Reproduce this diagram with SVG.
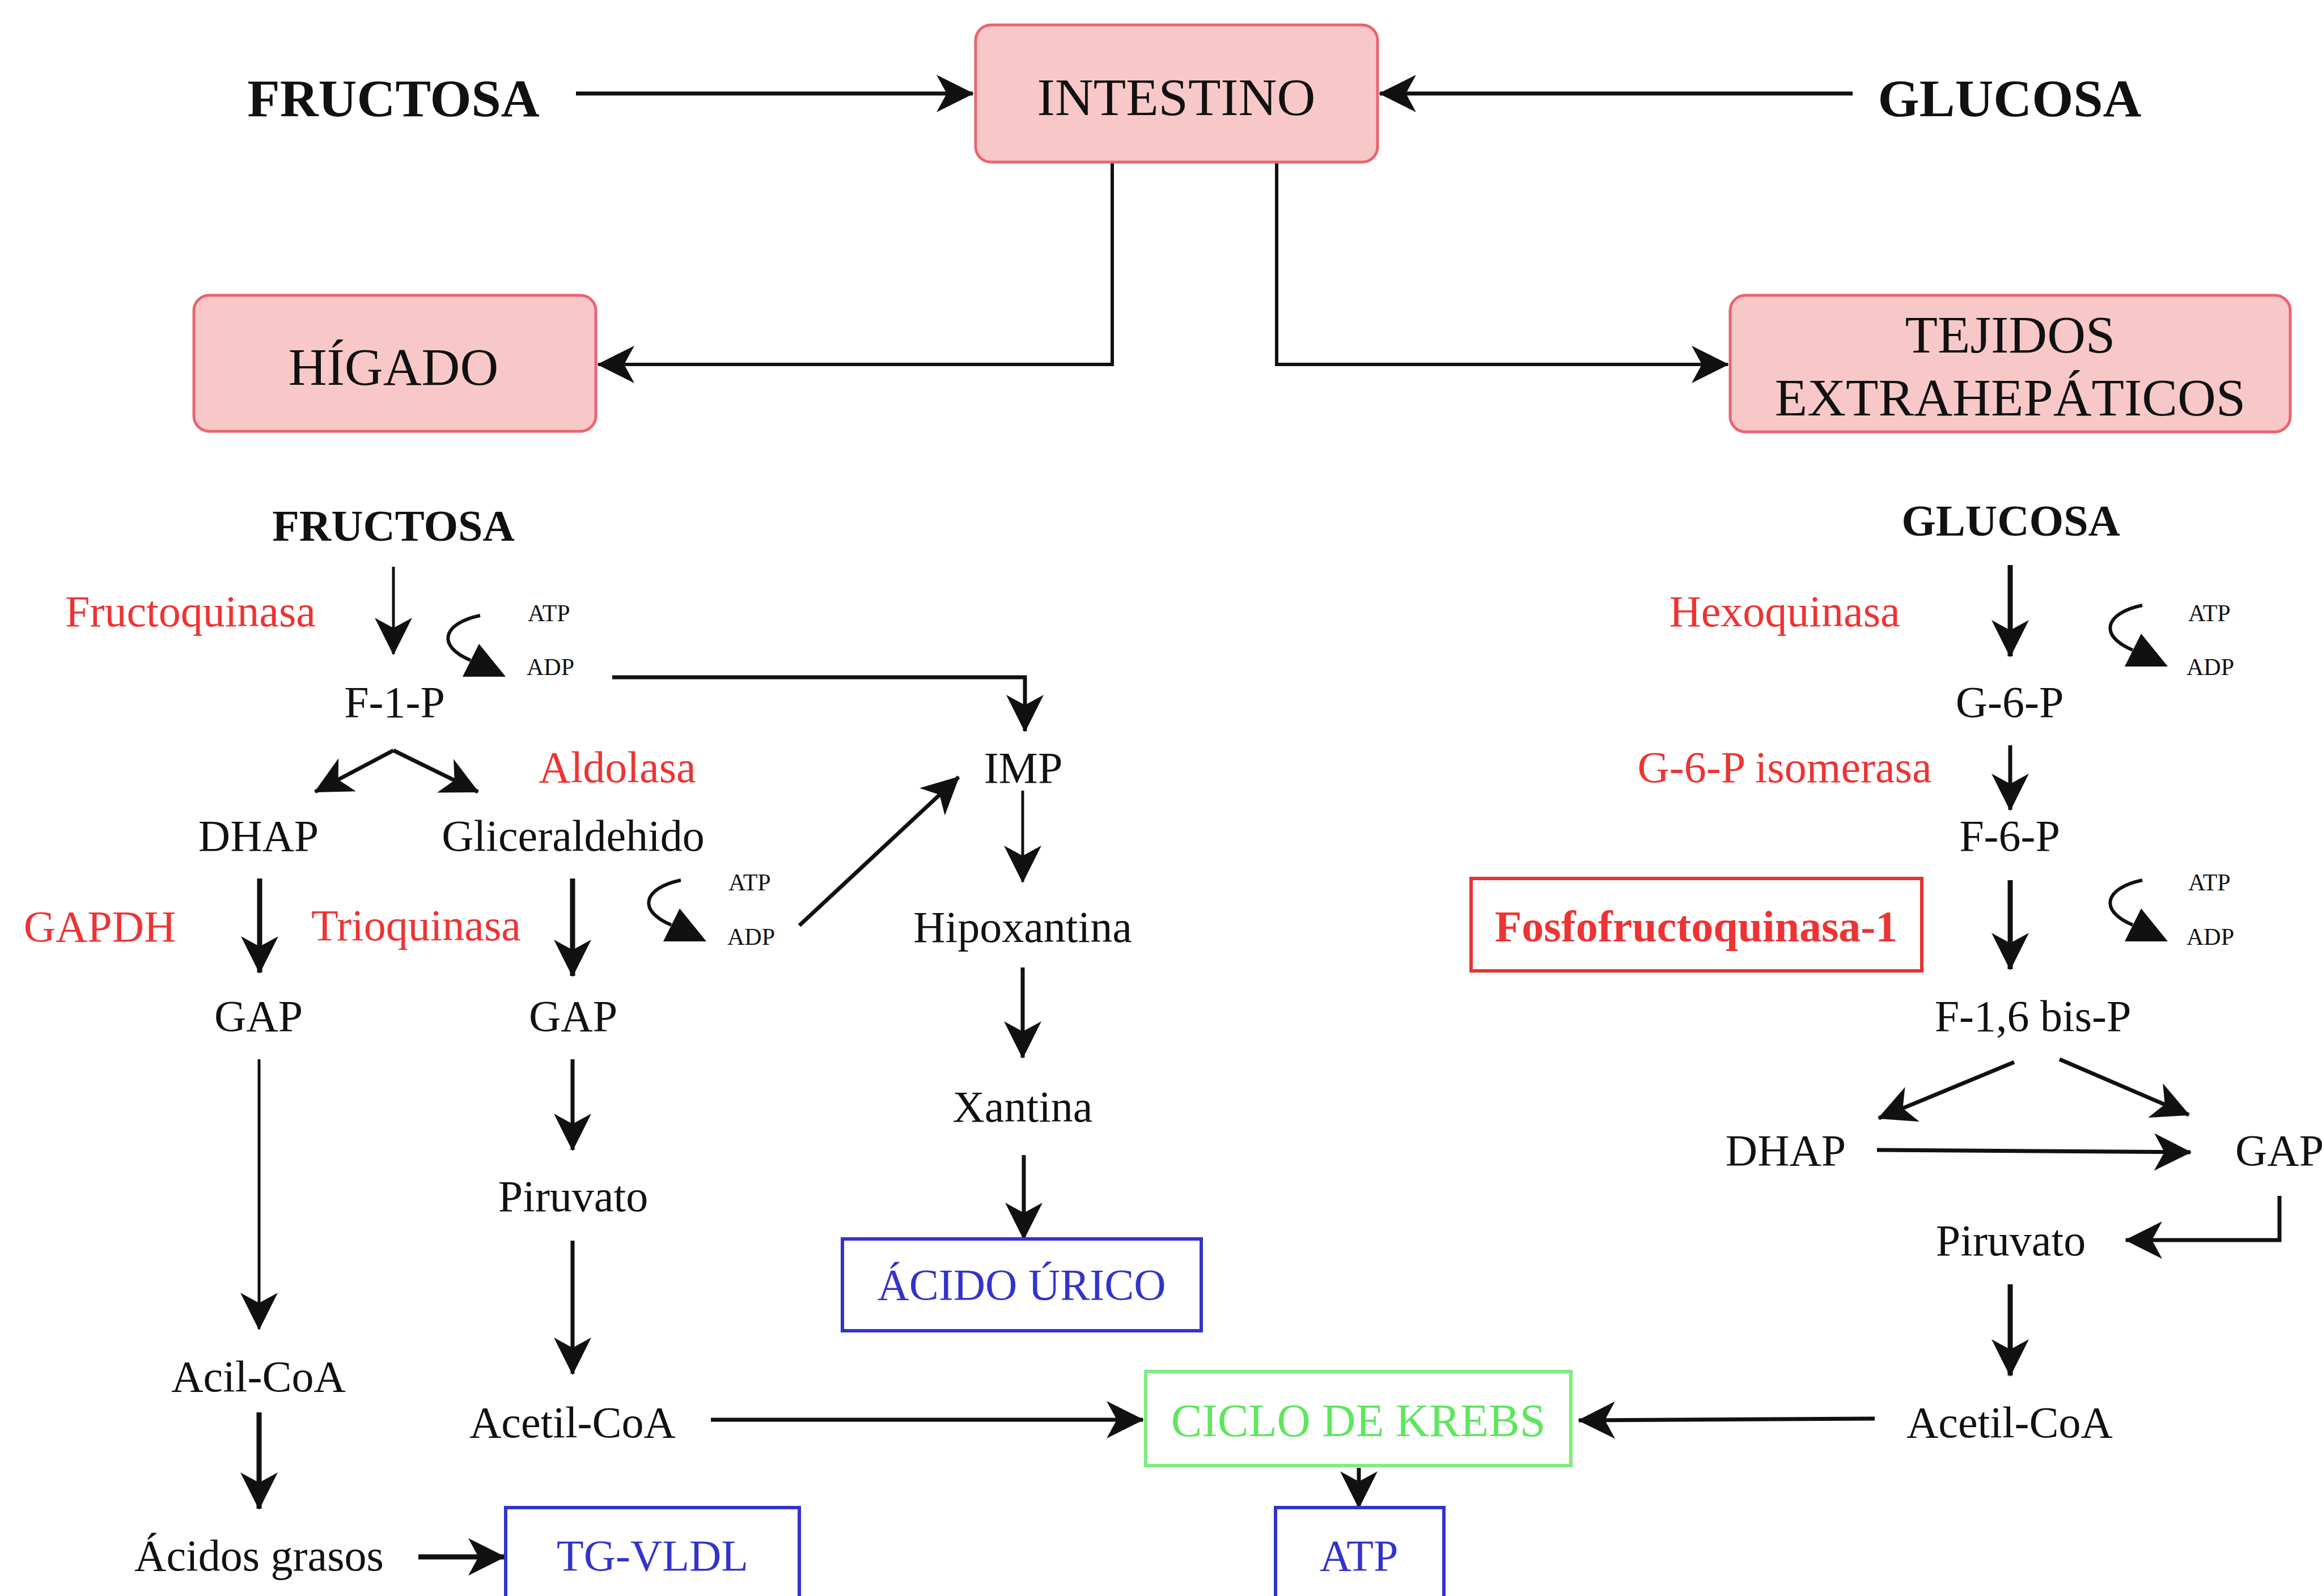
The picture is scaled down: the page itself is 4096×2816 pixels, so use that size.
<svg xmlns="http://www.w3.org/2000/svg" xmlns:xlink="http://www.w3.org/1999/xlink" width="4096" height="2816" viewBox="0 0 4096 2816">
<style>
text{font-family:"Liberation Serif","Times New Roman",serif;fill:#111;}
.big{font-size:94px;}
.b{font-weight:bold;}
.m{font-size:78px;}
.s{font-size:42px;}
.red{fill:#EE3333;}
.blue{fill:#3333CC;}
.green{fill:#5EE65E;}
.mid{text-anchor:middle;}
.pink{fill:#F8C8C8;stroke:#EA6470;stroke-width:5;}
.bbox{fill:#fff;stroke:#3333CC;stroke-width:6;}
.gbox{fill:#fff;stroke:#80EC80;stroke-width:6;}
.rbox{fill:#fff;stroke:#E53333;stroke-width:6;}
.ln{fill:none;stroke:#111;stroke-width:7;marker-end:url(#ah);}
.th{stroke-width:9;}
.tn{stroke-width:5;}
</style>
<defs>
<marker id="ah" viewBox="0 0 66 66" refX="64" refY="33" markerWidth="66" markerHeight="66" markerUnits="userSpaceOnUse" orient="auto">
<path d="M0,0 L66,33 L0,66 L18,33 Z" fill="#111"/>
</marker>
<g id="cyc">
<path d="M0,0 C-67,14 -77,54 -17,79" fill="none" stroke="#111" stroke-width="6"/>
<polygon points="-2,50 -31,108 45,108" fill="#111"/>
</g>
</defs>
<rect width="4096" height="2816" fill="#fff"/>

<g id="connectors">
<line class="ln" x1="1016" y1="165" x2="1716" y2="165"/>
<line class="ln" x1="3268" y1="165" x2="2434" y2="165"/>
<path class="ln" style="stroke-width:6" d="M1962,286 L1962,643 L1055,643"/>
<path class="ln" style="stroke-width:6" d="M2252,286 L2252,643 L3048,643"/>
<line class="ln tn" x1="694" y1="1000" x2="694" y2="1154"/>
<line class="ln" x1="694" y1="1324" x2="556" y2="1397"/>
<line class="ln" x1="694" y1="1324" x2="843" y2="1397"/>
<line class="ln th" x1="458" y1="1550" x2="458" y2="1716"/>
<line class="ln th" x1="1010" y1="1550" x2="1010" y2="1722"/>
<line class="ln tn" x1="457" y1="1869" x2="457" y2="2345"/>
<line class="ln" x1="1010" y1="1869" x2="1010" y2="2029"/>
<line class="ln" x1="1010" y1="2189" x2="1010" y2="2424"/>
<line class="ln th" x1="457" y1="2492" x2="457" y2="2662"/>
<line class="ln th" x1="738" y1="2747" x2="890" y2="2747"/>
<line class="ln" x1="1254" y1="2505" x2="2016" y2="2505"/>
<path class="ln" d="M1080,1195 L1808,1195 L1808,1290"/>
<line class="ln" x1="1410" y1="1633" x2="1691" y2="1371"/>
<line class="ln tn" x1="1804" y1="1395" x2="1804" y2="1556"/>
<line class="ln" x1="1804" y1="1707" x2="1804" y2="1866"/>
<line class="ln" x1="1806" y1="2038" x2="1806" y2="2186"/>
<line class="ln" x1="2397" y1="2590" x2="2397" y2="2660"/>
<line class="ln th" x1="3546" y1="997" x2="3546" y2="1158"/>
<line class="ln" x1="3546" y1="1315" x2="3546" y2="1429"/>
<line class="ln th" x1="3546" y1="1553" x2="3546" y2="1710"/>
<line class="ln" x1="3553" y1="1874" x2="3314" y2="1973"/>
<line class="ln" x1="3633" y1="1869" x2="3861" y2="1967"/>
<line class="ln" x1="3311" y1="2029" x2="3864" y2="2033"/>
<path class="ln" d="M4021,2110 L4021,2188 L3750,2188"/>
<line class="ln th" x1="3546" y1="2266" x2="3546" y2="2427"/>
<line class="ln" x1="3307" y1="2503" x2="2785" y2="2506"/>
<use xlink:href="#cyc" href="#cyc" transform="translate(847,1086)"/>
<use xlink:href="#cyc" href="#cyc" transform="translate(3779,1068)"/>
<use xlink:href="#cyc" href="#cyc" transform="translate(3779,1553)"/>
<use xlink:href="#cyc" href="#cyc" transform="translate(1201,1553)"/>
</g>

<g id="n-fructosa-top"><text class="big b mid" x="694" y="205">FRUCTOSA</text></g>
<g id="n-intestino"><rect class="pink" x="1721" y="44" width="709" height="242" rx="27"/><text class="big mid" x="2075" y="203">INTESTINO</text></g>
<g id="n-glucosa-top"><text class="big b mid" x="3545" y="205">GLUCOSA</text></g>
<g id="n-higado"><rect class="pink" x="342" y="521" width="709" height="240" rx="27"/><text class="big mid" x="694" y="679">HÍGADO</text></g>
<g id="n-tejidos"><rect class="pink" x="3052" y="521" width="988" height="241" rx="27"/><text class="big mid" x="3546" y="622">TEJIDOS</text><text class="big mid" x="3546" y="733">EXTRAHEPÁTICOS</text></g>

<g id="n-fructosa"><text class="m b mid" x="694" y="954">FRUCTOSA</text></g>
<g id="e-fructoquinasa"><text class="m red mid" x="336" y="1105">Fructoquinasa</text></g>
<g id="n-atp1"><text class="s" x="931" y="1096">ATP</text><text class="s" x="929" y="1191">ADP</text></g>
<g id="n-f1p"><text class="m mid" x="696" y="1265">F-1-P</text></g>
<g id="e-aldolasa"><text class="m red mid" x="1089" y="1380">Aldolasa</text></g>
<g id="n-dhap-l"><text class="m mid" x="456" y="1501">DHAP</text></g>
<g id="n-glic"><text class="m mid" x="1011" y="1501">Gliceraldehido</text></g>
<g id="e-gapdh"><text class="m red mid" x="176" y="1661">GAPDH</text></g>
<g id="e-trioquinasa"><text class="m red mid" x="734" y="1659">Trioquinasa</text></g>
<g id="n-atp4"><text class="s" x="1285" y="1571">ATP</text><text class="s" x="1283" y="1667">ADP</text></g>
<g id="n-gap-l1"><text class="m mid" x="456" y="1819">GAP</text></g>
<g id="n-gap-l2"><text class="m mid" x="1011" y="1819">GAP</text></g>
<g id="n-piruvato-l"><text class="m mid" x="1011" y="2137">Piruvato</text></g>
<g id="n-acil"><text class="m mid" x="456" y="2455">Acil-CoA</text></g>
<g id="n-acetil-l"><text class="m mid" x="1010" y="2536">Acetil-CoA</text></g>
<g id="n-acidos"><text class="m mid" x="457" y="2771">Ácidos grasos</text></g>
<g id="n-tgvldl"><rect class="bbox" x="892" y="2660" width="518" height="200"/><text class="m blue mid" x="1151" y="2771">TG-VLDL</text></g>

<g id="n-imp"><text class="m mid" x="1805" y="1381">IMP</text></g>
<g id="n-hipox"><text class="m mid" x="1804" y="1662">Hipoxantina</text></g>
<g id="n-xantina"><text class="m mid" x="1804" y="1979">Xantina</text></g>
<g id="n-urico"><rect class="bbox" x="1486" y="2186" width="633" height="162"/><text class="m blue mid" x="1802" y="2293">ÁCIDO ÚRICO</text></g>
<g id="n-krebs"><rect class="gbox" x="2021" y="2420" width="750" height="166"/><text class="green mid" style="font-size:82px" x="2396" y="2534">CICLO DE KREBS</text></g>
<g id="n-atp"><rect class="bbox" x="2250" y="2660" width="297" height="200"/><text class="m blue mid" x="2397" y="2771">ATP</text></g>

<g id="n-glucosa"><text class="m b mid" x="3547" y="945">GLUCOSA</text></g>
<g id="e-hexoquinasa"><text class="m red mid" x="3148" y="1105">Hexoquinasa</text></g>
<g id="n-atp2"><text class="s" x="3860" y="1096">ATP</text><text class="s" x="3857" y="1191">ADP</text></g>
<g id="n-g6p"><text class="m mid" x="3545" y="1265">G-6-P</text></g>
<g id="e-isomerasa"><text class="m red mid" x="3148" y="1380">G-6-P isomerasa</text></g>
<g id="n-f6p"><text class="m mid" x="3545" y="1501">F-6-P</text></g>
<g id="e-pfk"><rect class="rbox" x="2595" y="1550" width="795" height="163"/><text class="m b red mid" x="2992" y="1661">Fosfofructoquinasa-1</text></g>
<g id="n-atp3"><text class="s" x="3860" y="1571">ATP</text><text class="s" x="3857" y="1667">ADP</text></g>
<g id="n-f16"><text class="m mid" x="3586" y="1819">F-1,6 bis-P</text></g>
<g id="n-dhap-r"><text class="m mid" x="3150" y="2056">DHAP</text></g>
<g id="n-gap-r"><text class="m" x="3943" y="2056">GAP</text></g>
<g id="n-piruvato-r"><text class="m mid" x="3547" y="2215">Piruvato</text></g>
<g id="n-acetil-r"><text class="m mid" x="3545" y="2536">Acetil-CoA</text></g>
</svg>
